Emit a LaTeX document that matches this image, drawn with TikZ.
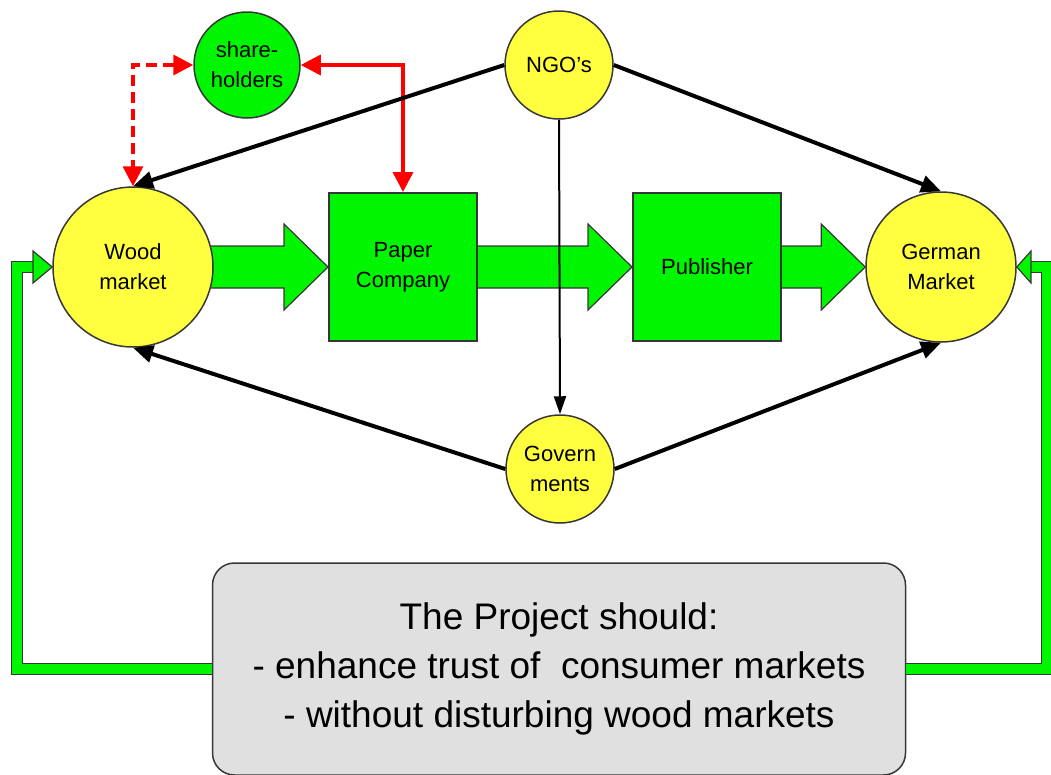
\documentclass[tikz,border=0pt]{standalone}
\usepackage{fontspec}
\setmainfont{Liberation Sans}
\usetikzlibrary{arrows.meta,calc,backgrounds}
\definecolor{leafgreen}{RGB}{0,245,0}
\definecolor{sunyellow}{RGB}{255,255,64}
\definecolor{boxgray}{RGB}{224,224,224}
\definecolor{rimgray}{RGB}{55,55,55}

\begin{document}
\begin{tikzpicture}[x=1pt,y=-1pt, node font=\fontsize{22}{30}\selectfont,
  actor/.style={circle,draw=rimgray,line width=1.5pt,inner sep=0pt,align=center},
  firm/.style={rectangle,draw=rimgray,line width=2pt,fill=leafgreen,minimum width=148pt,minimum height=148pt,align=center},
  influence/.style={line width=4pt,-{Triangle[length=20pt,width=17pt]}},
  owner/.style={red,line width=3.5pt,{Triangle[length=20pt,width=20pt]}-{Triangle[length=20pt,width=20pt]}},
  flow/.style={fill=leafgreen,draw=rimgray,line width=1.2pt,line join=miter},
  feedback/.style={draw=rimgray,line width=1.2pt,double=leafgreen,double distance=10pt}]
				\useasboundingbox (0,0) rectangle (1051,774);
				\node[actor,fill=sunyellow,minimum size=160pt] (wood) at (133,267) {Wood\\market};
				\node[actor,fill=sunyellow,minimum size=150pt] (german) at (941,267) {German\\Market};
				\node[actor,fill=leafgreen,minimum size=106pt] (share) at (247,65) {share-\\holders};
				\node[actor,fill=sunyellow,minimum size=108pt] (ngo) at (559,65) {NGO's};
				\node[actor,fill=sunyellow,minimum size=108pt] (gov) at (560,469) {Govern\\ments};
				\node[firm] (paper) at (403,267) {Paper\\Company};
				\node[firm] (pub) at (707,267) {Publisher};
				\node[draw=rimgray,line width=1.5pt,fill=boxgray,rounded corners=22pt,minimum width=693pt,minimum height=212pt,
				      align=center,font=\fontsize{37}{49}\selectfont] (project) at (559,669)
				      {The Project should:\\- enhance trust of\ \ consumer markets\\- without disturbing wood markets};
				\begin{scope}[on background layer]
				\foreach \from/\to in {wood/paper,paper/pub,pub/german}
				  \draw[flow] ($(\from.east)+(-4,-21)$) -- ($(\to.west)+(-44,-21)$) -- ($(\to.west)+(-44,-43)$) -- (\to.west)
				              -- ($(\to.west)+(-44,43)$) -- ($(\to.west)+(-44,21)$) -- ($(\from.east)+(-4,21)$) -- cycle;
				\end{scope}
				\draw[owner,dash pattern=on 11pt off 6pt] (share.west) -| (wood.north);
				\draw[owner] (share.east) -| (paper.north);
				\draw[influence] (ngo.west) -- (wood.north);
				\draw[influence] (ngo.east) -- (german.north);
				\draw[influence] (gov.west) -- (wood.south);
				\draw[influence] (gov.east) -- (german.south);
				\draw[line width=2pt,-{Triangle[length=18pt,width=12pt]}] (ngo.south) -- (gov.north);
				\coordinate (lbend) at (17,267);
				\coordinate (lhead) at (33,267);
				\coordinate (rbend) at (1047,267);
				\coordinate (rhead) at (1031,267);
				\draw[feedback] (project.west) -| (lbend) -- (lhead);
				\draw[flow] ($(lhead)+(0,-16)$) -- (wood.west) -- ($(lhead)+(0,16)$) -- cycle;
				\draw[feedback] (project.east) -| (rbend) -- (rhead);
				\draw[flow] ($(rhead)+(0,-16)$) -- (german.east) -- ($(rhead)+(0,16)$) -- cycle;
			\end{tikzpicture}
\end{document}
